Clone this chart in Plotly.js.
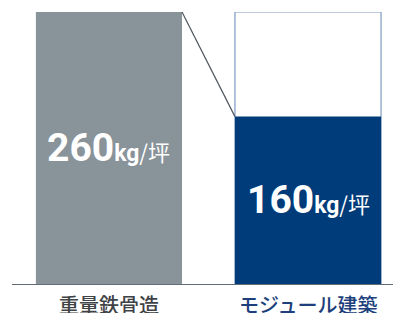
<!DOCTYPE html>
<html>
<head>
<meta charset="utf-8">
<script src="https://cdn.plot.ly/plotly-3.0.1.min.js"></script>
<style>html,body{margin:0;padding:0;background:#fff;}#chart{width:393px;height:313px;}</style>
</head>
<body>
<div id="chart"></div>
<script>
const categories = ["重量鉄骨造", "モジュール建築"];
const values = [260, 160];
const referenceMax = 260;
const barColors = ["#89939a", "#003c79"];
const labelColors = ["#3f4346", "#1d3f7c"];

const barWidth = 0.734;
const numFont = "Roboto, 'Noto Sans CJK JP', sans-serif";
const cjkFont = "'Noto Sans CJK JP', sans-serif";

const traces = [
  {
    type: "bar",
    x: [categories[1]],
    y: [referenceMax],
    width: barWidth,
    marker: {color: "rgba(255,255,255,0)", line: {color: "#7d9cc3", width: 1.2}},
    hoverinfo: "skip"
  },
  {
    type: "bar",
    x: categories,
    y: values,
    width: barWidth,
    marker: {color: barColors, line: {width: 0}},
    hoverinfo: "skip"
  }
];

const annotations = [];
values.forEach((v, i) => {
  annotations.push({
    x: categories[i], y: v / 2, xref: "x", yref: "y",
    text: "<b>" + v + "</b><span style='font-size:23px'><b>kg</b></span>" +
          "<span style='font-size:22px;font-family:\"Noto Sans CJK JP\"'>/坪</span>",
    showarrow: false, xanchor: "center", yanchor: "middle",
    font: {family: numFont, size: 39, color: "#ffffff"}
  });
  annotations.push({
    x: categories[i], y: 0, xref: "x", yref: "y",
    text: categories[i], showarrow: false, xanchor: "center", yanchor: "top",
    yshift: -4,
    font: {family: cjkFont, size: 20, color: labelColors[i], weight: 500}
  });
});

const layout = {
  width: 393, height: 313,
  margin: {l: 12, r: 0, t: 12, b: 29},
  paper_bgcolor: "#ffffff", plot_bgcolor: "#ffffff",
  barmode: "overlay",
  showlegend: false,
  xaxis: {
    type: "category", categoryorder: "array", categoryarray: categories,
    range: [-0.487, 1.427],
    showticklabels: false, ticks: "", showgrid: false, zeroline: false,
    showline: true, linecolor: "#646b72", linewidth: 1.2, fixedrange: true
  },
  yaxis: {
    range: [0, referenceMax], showticklabels: false, ticks: "",
    showgrid: false, zeroline: false, showline: false, fixedrange: true
  },
  shapes: [{
    type: "line", xref: "x", yref: "y",
    x0: 0 + barWidth / 2, y0: values[0],
    x1: 1 - barWidth / 2, y1: values[1],
    line: {color: "#50565c", width: 1.2}
  }],
  annotations: annotations
};

Plotly.newPlot("chart", traces, layout, {displayModeBar: false, staticPlot: true});
</script>
</body>
</html>
